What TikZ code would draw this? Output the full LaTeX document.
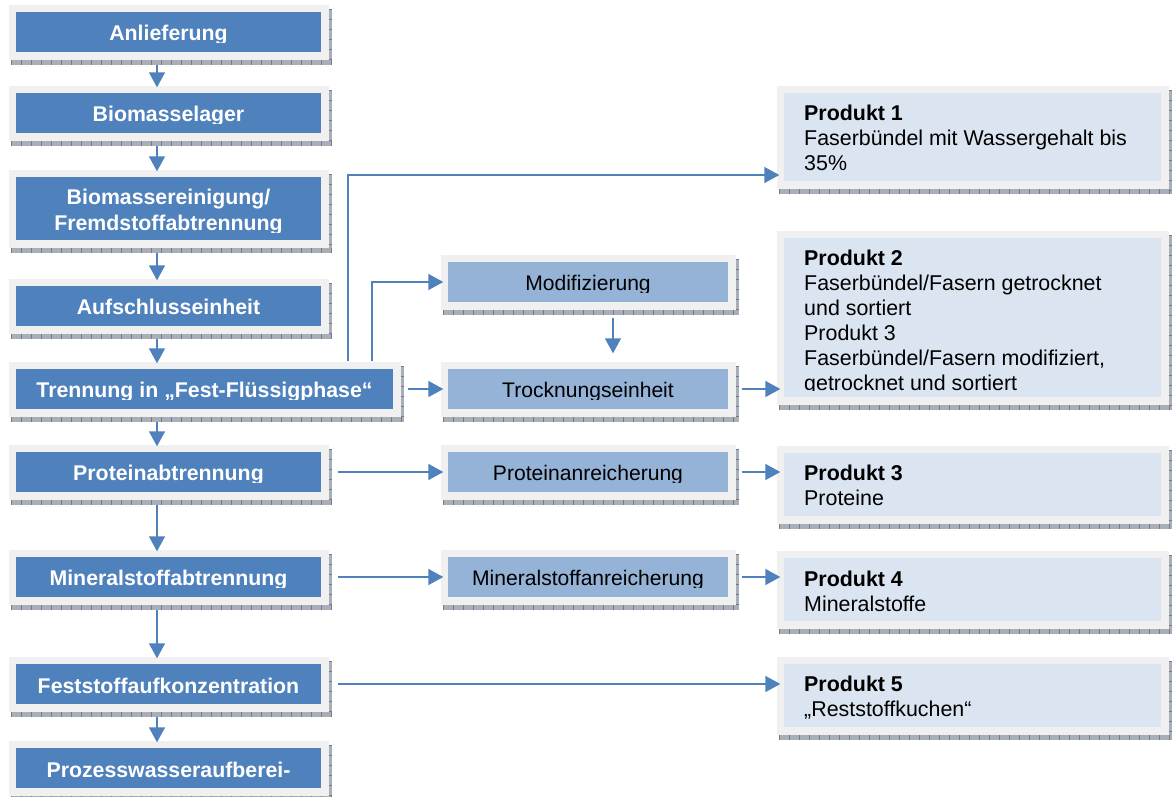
\documentclass[tikz,border=0pt]{standalone}
\usepackage{fontspec}
\setmainfont{Liberation Sans}
\usetikzlibrary{arrows.meta,shadows,calc}
\definecolor{dblue}{HTML}{4F81BD}
\definecolor{mblue}{HTML}{95B3D7}
\definecolor{lblue}{HTML}{DBE5F1}
\definecolor{framec}{HTML}{F0F0F0}
\definecolor{shadc}{HTML}{A9AFB8}
\definecolor{tickc}{HTML}{737B87}
\tikzset{
 frame/.style={rectangle, fill=framec, draw=none, inner sep=0pt,
   drop shadow={shadow xshift=3pt, shadow yshift=-5pt, fill=shadc, opacity=1}},
 proc/.style={rectangle, fill=dblue, inner sep=0pt},
 sub/.style={rectangle, fill=mblue, inner sep=0pt},
 prod/.style={rectangle, fill=lblue, inner sep=0pt},
 ptext/.style={font=\fontsize{21.3}{26}\selectfont\bfseries, text=white, inner sep=0pt, anchor=base},
 stext/.style={font=\fontsize{21.1}{25}\selectfont, text=black, inner sep=0pt, anchor=base},
 rtext/.style={font=\fontsize{21.4}{25}\selectfont, text=black, inner sep=0pt, anchor=base west},
 conn/.style={draw=dblue, line width=1.5pt, -{Triangle[length=15pt,width=16pt]}},
 tickline/.style={tickc, dash pattern=on 0.8pt off 9.2pt},
}
\newcommand\shadticks[1]{%
 \draw[tickline, line width=5pt] ($(#1.south west)+(3,2.5)$) -- ($(#1.south east)+(3,2.5)$);
 \draw[tickline, line width=3pt] ($(#1.north east)+(1.5,5)$) -- ($(#1.south east)+(1.5,5)$);}
\newcommand\mkbox[6]{%
 \node[frame, minimum width={#4-#2+15}, minimum height={#5-#3+15}] (#1) at ({(#2+#4)/2},{(#3+#5)/2}) {};
 \shadticks{#1}
 \node[#6, minimum width={#4-#2}, minimum height={#5-#3}] (#1i) at (#1.center) {};}
\newcommand\cliptext[6]{%
 \begin{scope}\clip (0,0) rectangle (1172,#5); \node[#2] (#1) at (#3,#4) {#6}; \end{scope}}
\begin{document}
\begin{tikzpicture}[x=1pt,y=-1pt]
\useasboundingbox (0,0) rectangle (1172,796);
\fill[white] (0,0) rectangle (1172,796);
% left column
\mkbox{A}{16}{12}{321}{52}{proc}
\mkbox{B}{16}{93}{321}{133}{proc}
\mkbox{C}{16}{177}{321}{240}{proc}
\mkbox{D}{16}{286}{321}{326}{proc}
\mkbox{E}{16}{369}{393}{409}{proc}
\mkbox{F}{16}{452}{321}{492}{proc}
\mkbox{G}{16}{557}{321}{597}{proc}
\mkbox{H}{16}{664}{321}{704}{proc}
\mkbox{I}{16}{748}{321}{788}{proc}
% middle column
\mkbox{M1}{448}{262}{728}{302}{sub}
\mkbox{M2}{448}{369}{728}{409}{sub}
\mkbox{M3}{448}{452}{728}{492}{sub}
\mkbox{M4}{448}{557}{728}{597}{sub}
% products
\mkbox{P1}{784}{93}{1161}{181}{prod}
\mkbox{P2}{784}{238}{1161}{397}{prod}
\mkbox{P3}{784}{453}{1161}{516}{prod}
\mkbox{P4}{784}{558}{1161}{621}{prod}
\mkbox{P5}{784}{664}{1161}{727}{prod}
% texts
\cliptext{At}{ptext}{168.5}{40}{42}{Anlieferung}
\cliptext{Bt}{ptext}{168.5}{121}{123}{Biomasselager}
\cliptext{Ct}{ptext}{168.5}{204}{232}{\begin{tabular}[t]{@{}c@{}}Biomassereinigung/\\Fremdstoffabtrennung\end{tabular}}
\cliptext{Dt}{ptext}{168.5}{314}{316}{Aufschlusseinheit}
\cliptext{Et}{ptext}{204.5}{397}{399}{Trennung in „Fest-Flüssigphase“}
\cliptext{Ft}{ptext}{168.5}{480}{482}{Proteinabtrennung}
\cliptext{Gt}{ptext}{168.5}{585}{587}{Mineralstoffabtrennung}
\cliptext{Ht}{ptext}{168.5}{693}{695}{Feststoffaufkonzentration}
\cliptext{It}{ptext}{168.5}{777}{779}{Prozesswasseraufberei-}
\cliptext{M1t}{stext}{588}{290}{292}{Modifizierung}
\cliptext{M2t}{stext}{588}{397}{399}{Trocknungseinheit}
\cliptext{M3t}{stext}{588}{480}{482}{Proteinanreicherung}
\cliptext{M4t}{stext}{588}{585}{587}{Mineralstoffanreicherung}
\cliptext{P1t}{rtext}{804}{120}{181}{\begin{tabular}[t]{@{}l@{}}\textbf{Produkt 1}\\Faserbündel mit Wassergehalt bis\\35\%\end{tabular}}
\cliptext{P2t}{rtext}{804}{265}{390}{\begin{tabular}[t]{@{}l@{}}\textbf{Produkt 2}\\Faserbündel/Fasern getrocknet\\und sortiert\\Produkt 3\\Faserbündel/Fasern modifiziert,\\getrocknet und sortiert\end{tabular}}
\cliptext{P3t}{rtext}{804}{480}{516}{\begin{tabular}[t]{@{}l@{}}\textbf{Produkt 3}\\Proteine\end{tabular}}
\cliptext{P4t}{rtext}{804}{586}{621}{\begin{tabular}[t]{@{}l@{}}\textbf{Produkt 4}\\Mineralstoffe\end{tabular}}
\cliptext{P5t}{rtext}{804}{691}{727}{\begin{tabular}[t]{@{}l@{}}\textbf{Produkt 5}\\„Reststoffkuchen“\end{tabular}}
% connectors
\coordinate (lx) at (157,0);
\coordinate (mx) at (613,0);
\coordinate (k1) at (348,175);
\coordinate (k2) at (372,282);
\foreach \u/\v in {A/B,B/C,C/D,D/E,E/F,F/G,G/H,H/I}{
  \draw[conn] ($(\u.south -| lx)+(0,5)$) -- ($(\v.north -| lx)+(0,2)$);}
\draw[conn] ($(M1.south -| mx)+(0,8)$) -- ($(M2.north -| mx)+(0,-8)$);
\draw[conn] (E.north -| k1) |- ($(P1.west |- k1)+(3,0)$);
\draw[conn] (E.north -| k2) |- ($(M1.west |- k2)+(3,0)$);
\draw[conn] ($(E.east)+(7,0)$) -- ($(M2.west)+(3,0)$);
\draw[conn] ($(M2.east)+(6,0)$) -- ($(P2.west |- M2.east)+(4,0)$);
\draw[conn] ($(F.east)+(9,0)$) -- ($(M3.west)+(3,0)$);
\draw[conn] ($(M3.east)+(6,0)$) -- ($(P3.west |- M3.east)+(4,0)$);
\draw[conn] ($(G.east)+(9,0)$) -- ($(M4.west)+(3,0)$);
\draw[conn] ($(M4.east)+(6,0)$) -- ($(P4.west |- M4.east)+(4,0)$);
\draw[conn] ($(H.east)+(9,0)$) -- ($(P5.west |- H.east)+(4,0)$);
\end{tikzpicture}
\end{document}
